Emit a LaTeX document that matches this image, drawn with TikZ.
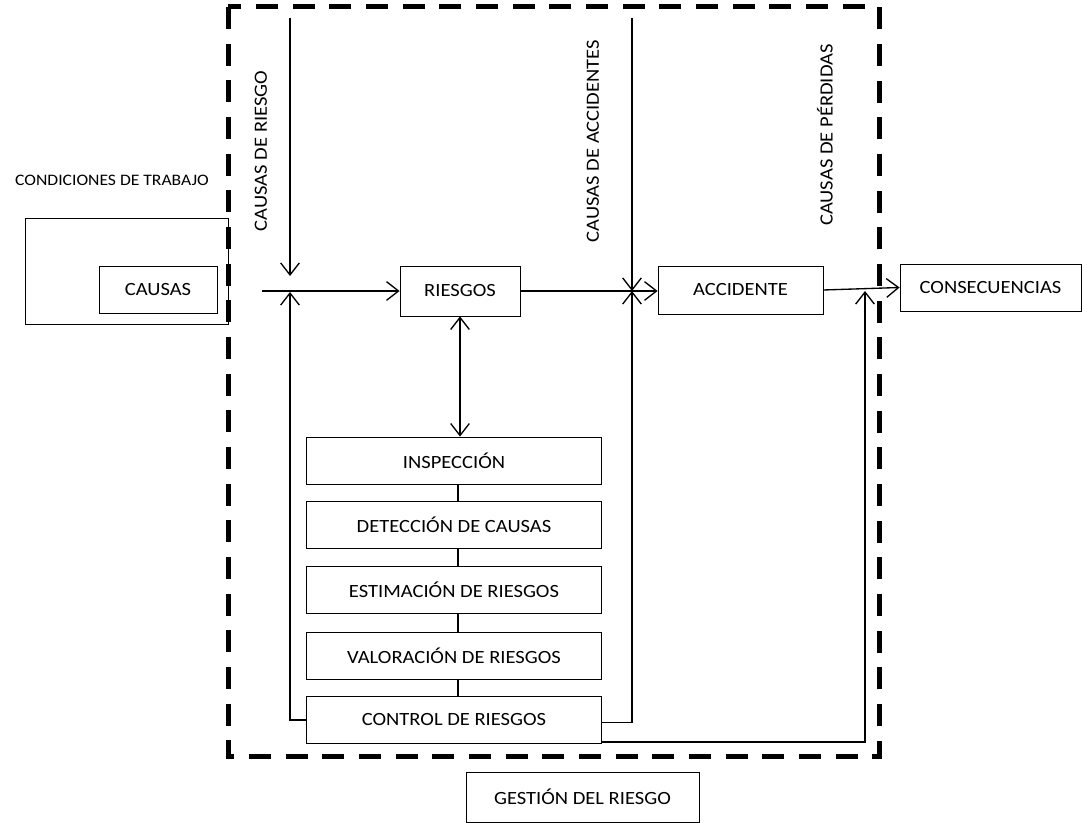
\documentclass[tikz,border=0pt]{standalone}
\usepackage{fontspec}
\setmainfont[FakeStretch=1.1]{Carlito}
\usepackage{tikz}
\usetikzlibrary{arrows.meta,positioning}

\tikzset{
  box/.style={draw, line width=0.6pt, inner sep=0pt, font=\fontsize{14}{16}\selectfont},
  stackbox/.style={box, minimum width=221.25pt, minimum height=35.25pt},
  arr/.style={line width=1pt, -{Straight Barb[length=9pt,width=14pt]}},
  lbl/.style={inner sep=0pt, font=\fontsize{14}{16}\selectfont},
  frame/.style={line width=3.75pt, dash pattern=on 16.5pt off 11pt}
}

\begin{document}
\begin{tikzpicture}[x=0.75pt, y=-0.75pt]
  \useasboundingbox (0,0) rectangle (1082,823);
  % gestion del riesgo
  \draw[frame] (228,7) rectangle (879,756);
  \node[box, minimum width=174.75pt, minimum height=37.5pt] (gestion) at (582.5,797) {GESTIÓN DEL RIESGO};

  % condiciones de trabajo
  \node[draw, line width=0.6pt, minimum width=152.25pt, minimum height=79.5pt] (condiciones) at (126.5,271) {};
  \node[lbl, font=\fontsize{12}{14}\selectfont] (condlbl) at (112,180) {CONDICIONES DE TRABAJO};
  \node[box, minimum width=88.5pt, minimum height=35.25pt] (causas) at (158,289.5) {CAUSAS};

  % cadena principal
  \node[box, minimum width=90pt, minimum height=37.5pt] (riesgos) at (460,291) {RIESGOS};
  \node[box, minimum width=123.75pt, minimum height=36pt] (accidente) at (740.5,290) {ACCIDENTE};
  \node[box, minimum width=135.75pt, minimum height=35.25pt] (consecuencias) at (990.5,287.5) {CONSECUENCIAS};

  % etapas de la gestion
  \node[stackbox] (inspeccion) at (454,460.5) {INSPECCIÓN};
  \node[stackbox] (deteccion) at (454,525) {DETECCIÓN DE CAUSAS};
  \node[stackbox] (estimacion) at (454,589.5) {ESTIMACIÓN DE RIESGOS};
  \node[stackbox] (valoracion) at (454,656) {VALORACIÓN DE RIESGOS};
  \node[stackbox] (control) at (454,720) {CONTROL DE RIESGOS};
  \foreach \a/\b in {inspeccion/deteccion,deteccion/estimacion,estimacion/valoracion,valoracion/control}
    \draw[line width=0.8pt] ([xshift=3pt]\a.south) -- ([xshift=3pt]\b.north);

  % causas que entran
  \node[lbl, rotate=90] (lblriesgo) at (261,151) {CAUSAS DE RIESGO};
  \node[lbl, rotate=90] (lblaccid) at (593,141) {CAUSAS DE ACCIDENTES};
  \node[lbl, rotate=90] (lblperd) at (825,135) {CAUSAS DE PÉRDIDAS};

  \coordinate (r0) at (290,18);
  \coordinate (r1) at (290,276);
  \coordinate (j1) at (290,292);
  \coordinate (in) at (262,291);
  \coordinate (a0) at (632,18);
  \coordinate (j2) at (632,291);
  \coordinate (j3) at (865,291);

  \draw[arr] (r0) -- (r1);
  \draw[arr] (in) -- (in -| riesgos.west);
  \draw[arr] (control.west) -| (j1);
  \draw[arr] (riesgos.east) -- (riesgos.east -| accidente.west);
  \draw[arr] (a0) -- (j2);
  \draw[arr] ([yshift=-2pt]control.east) -| (j2);
  \draw[arr] (accidente.east) -- (consecuencias.west);
  \draw[arr] ([yshift=1.5pt]control.south east) -| (j3);
  \draw[line width=1pt, {Straight Barb[length=9pt,width=14pt]}-{Straight Barb[length=9pt,width=14pt]}] (riesgos.south) -- (riesgos.south |- inspeccion.north);
\end{tikzpicture}
\end{document}
